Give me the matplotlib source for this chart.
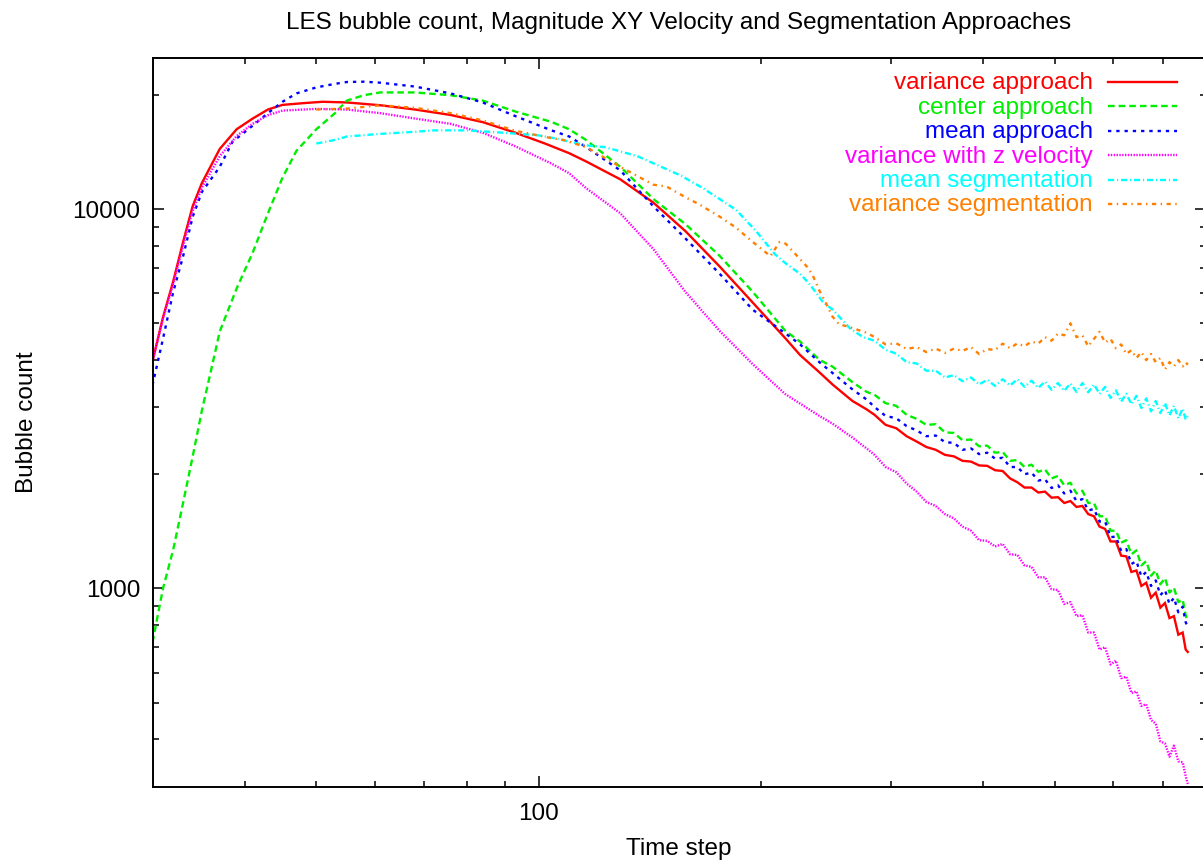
import matplotlib
matplotlib.use("Agg")
import matplotlib.pyplot as plt
from matplotlib.lines import Line2D

plt.rcParams['font.family'] = ['Liberation Sans', 'DejaVu Sans']

# ---------------- data ----------------
# early part of each series
red_head_x = [30, 31, 32, 33, 34, 35, 37, 39, 41, 43, 45, 48, 51, 55, 61, 68, 76, 84, 93, 102, 110,
              116, 129, 143, 158, 176, 195, 216, 226, 240, 250, 266, 278]
red_head_y = [3970, 5190, 6450, 8190, 10180, 11730, 14420, 16250, 17340, 18320, 18840, 19040, 19200,
              19120, 18800, 18320, 17720, 16970, 15910, 14900, 14050, 13360, 11990, 10410, 8760, 7050,
              5670, 4560, 4124, 3715, 3451, 3122, 2967]

grn_head_x = [30, 31, 32, 33, 34, 35, 36, 37, 39, 41, 43, 45, 47, 50, 53, 55, 58, 61, 68, 76, 84, 93,
              104, 110, 116, 129, 143, 158, 176, 195, 216, 226, 240, 250, 266, 278]
grn_head_y = [720, 1000, 1265, 1680, 2225, 2950, 3750, 4760, 6180, 7680, 9755, 12120, 14260, 16250,
              17920, 19340, 19980, 20320, 20320, 19980, 19340, 18100, 17000, 16250, 15216, 12937, 10639,
              9141, 7521, 6055, 4768, 4476, 4008, 3846, 3500, 3300]

blu_head_x = [30, 31, 32, 33, 34, 35, 37, 38.5, 41, 43, 45, 47, 50, 53, 55, 58, 61, 68, 76, 84, 93,
              104, 110, 116, 129, 143, 158, 176, 195, 216, 226, 240, 250, 266, 278]
blu_head_y = [3436, 4558, 6048, 7510, 9543, 11110, 12937, 15059, 16610, 17920, 19204, 20200, 20950,
              21410, 21650, 21690, 21560, 21060, 20200, 19120, 17600, 16150, 15551, 14575, 12657, 10183,
              8380, 6745, 5430, 4700, 4400, 3950, 3700, 3350, 3150]

mag_head_x = [30, 31, 32, 33, 34, 35, 37, 39, 41, 43, 45, 50, 55, 61, 68, 76, 84, 93, 104, 110, 116,
              129, 143, 158, 176, 195, 216, 240, 250, 266, 278]
mag_head_y = [3970, 5150, 6350, 8000, 9900, 11400, 13800, 15600, 16800, 17700, 18200, 18390, 18315,
              17920, 17343, 16791, 15907, 14650, 13200, 12437, 11354, 9755, 7852, 6055, 4768, 3900,
              3250, 2850, 2720, 2500, 2340]

cyn_head_x = [50, 53, 55, 61, 68, 72, 80, 90, 100, 105, 116, 123, 136, 156, 167, 185, 197, 209, 216,
              226, 232, 237, 243, 250, 264, 275]
cyn_head_y = [14900, 15230, 15550, 15800, 16000, 16140, 16140, 15900, 15660, 15390, 14733, 14575,
              13806, 12251, 11354, 9970, 8755, 7603, 7200, 6754, 6391, 6062, 5670, 5440, 4850, 4600]

org_head_x = [50, 55, 61, 68, 76, 84, 93, 104, 108, 116, 129, 143, 149, 158, 165, 176, 185, 195, 206,
              212, 216, 224, 231, 235, 240, 245, 250, 255, 264, 278]
org_head_y = [18315, 18420, 18798, 18510, 17920, 17150, 16100, 15400, 15227, 14575, 12937, 11604,
              11478, 10757, 10301, 9549, 8944, 8194, 7521, 8194, 8114, 7521, 7047, 6700, 6100, 5650,
              5210, 4979, 4883, 4724]

# late (noisy) part, common time steps
tail_x = [285, 295, 305, 315, 325, 335, 345, 355, 365, 375, 385, 395, 405, 415, 425, 435, 445, 455,
          465, 475, 485, 495, 505, 515, 525, 535, 545, 555, 565, 575, 585, 595, 605, 615, 625, 635,
          645, 655, 665, 675, 685, 695, 705, 715, 725, 735, 745, 752, 757]
red_tail_y = [2870, 2700, 2645, 2520, 2440, 2360, 2320, 2250, 2230, 2170, 2160, 2110, 2105, 2050,
              2040, 1950, 1905, 1845, 1845, 1790, 1800, 1735, 1740, 1680, 1700, 1640, 1650, 1570,
              1550, 1455, 1435, 1330, 1330, 1220, 1215, 1105, 1115, 1015, 1035, 945, 975, 890, 915,
              835, 845, 755, 765, 690, 680]
grn_tail_y = [3240, 3080, 3030, 2870, 2800, 2700, 2710, 2580, 2570, 2460, 2470, 2370, 2380, 2280,
              2290, 2170, 2180, 2090, 2120, 2030, 2060, 1950, 1980, 1870, 1900, 1780, 1810, 1680,
              1680, 1550, 1550, 1420, 1420, 1320, 1340, 1230, 1260, 1150, 1180, 1080, 1115, 1025,
              1065, 975, 1005, 920, 935, 850, 817]
blu_tail_y = [3010, 2850, 2810, 2680, 2610, 2520, 2530, 2430, 2420, 2320, 2340, 2260, 2280, 2200,
              2210, 2090, 2090, 2000, 2020, 1925, 1940, 1840, 1870, 1780, 1810, 1700, 1720, 1605,
              1620, 1500, 1500, 1365, 1370, 1255, 1270, 1160, 1180, 1075, 1105, 1015, 1050, 960, 990,
              910, 945, 865, 895, 815, 790]
mag_tail_y = [2250, 2090, 2025, 1890, 1800, 1690, 1650, 1570, 1530, 1455, 1420, 1340, 1335, 1290,
              1310, 1230, 1225, 1150, 1140, 1070, 1070, 995, 990, 910, 920, 845, 850, 765, 765, 690,
              700, 630, 645, 580, 585, 530, 535, 490, 495, 450, 440, 395, 390, 360, 385, 350, 348,
              320, 305]
cyn_tail_y = [4500, 4260, 4160, 3950, 3920, 3750, 3750, 3600, 3650, 3520, 3600, 3450, 3550, 3420,
              3560, 3430, 3560, 3400, 3530, 3380, 3510, 3340, 3480, 3320, 3470, 3300, 3480, 3290,
              3450, 3260, 3400, 3180, 3330, 3110, 3260, 3060, 3220, 2990, 3170, 2930, 3120, 2900,
              3080, 2860, 3030, 2810, 2980, 2790, 2860]
org_tail_y = [4600, 4400, 4430, 4280, 4330, 4200, 4290, 4180, 4290, 4230, 4330, 4150, 4280, 4250,
              4420, 4300, 4430, 4350, 4480, 4420, 4600, 4500, 4700, 4650, 5000, 4600, 4650, 4350,
              4550, 4750, 4450, 4550, 4300, 4400, 4150, 4250, 4050, 4200, 4000, 4150, 3950, 4050,
              3780, 3950, 3850, 4000, 3850, 3950, 3890]

labels = ["variance approach", "center approach", "mean approach",
          "variance with z velocity", "mean segmentation", "variance segmentation"]
colors = ["#ff0000", "#00ee00", "#0000ff", "#ff00ff", "#00ffff", "#ff8000"]
dashes = [None, (2.8, 1.7), (1.4, 2.1), (0.6, 0.6), (2.6, 1.2, 0.5, 1.2), (1.8, 1.9, 0.6, 1.9)]
series = [(red_head_x + tail_x, red_head_y + red_tail_y),
          (grn_head_x + tail_x, grn_head_y + grn_tail_y),
          (blu_head_x + tail_x, blu_head_y + blu_tail_y),
          (mag_head_x + tail_x, mag_head_y + mag_tail_y),
          (cyn_head_x + tail_x, cyn_head_y + cyn_tail_y),
          (org_head_x + tail_x, org_head_y + org_tail_y)]

xticks_major = [100]
xticks_minor = [40, 50, 60, 70, 80, 90, 200, 300, 400, 500, 600, 700]
yticks_major = [1000, 10000]
yticks_minor = [400, 500, 600, 700, 800, 900, 2000, 3000, 4000, 5000, 6000, 7000, 8000, 9000, 20000]

# ---------------- figure ----------------
W, H = 1203, 865
fig = plt.figure(figsize=(W / 100, H / 100), dpi=100)
L, R, T, B = 152.5, 1205.5, 58.3, 786.7
ax = fig.add_axes([L / W, 1 - B / H, (R - L) / W, (B - T) / H])
ax.set_xscale('log')
ax.set_yscale('log')
ax.set_xlim(30, 800)
ax.set_ylim(300, 25000)

lw = 1.7
for (xs, ys), c, d, lab in zip(series, colors, dashes, labels):
    ln, = ax.plot(xs, ys, color=c, lw=lw, label=lab, solid_joinstyle='miter')
    if d is not None:
        ln.set_dashes(d)
        ln.set_dash_capstyle('butt')

ax.set_xticks(xticks_major)
ax.set_xticklabels([str(v) for v in xticks_major])
ax.set_xticks(xticks_minor, minor=True)
ax.set_xticklabels([], minor=True)
ax.set_yticks(yticks_major)
ax.set_yticklabels([str(v) for v in yticks_major])
ax.set_yticks(yticks_minor, minor=True)
ax.set_yticklabels([], minor=True)

fs = 17.5
ax.tick_params(which='both', direction='in', top=True, right=True, width=1.1, colors='black')
ax.tick_params(which='major', length=7.7, labelsize=fs)
ax.tick_params(which='minor', length=4.1)
ax.tick_params(axis='y', which='major', pad=9)
ax.tick_params(axis='x', which='major', pad=12)
for s in ax.spines.values():
    s.set_linewidth(1.4)

# legend, gnuplot style: right-aligned coloured text, sample on the right
row0, pitch = 82.0, 24.4
for i, (c, d, lab) in enumerate(zip(colors, dashes, labels)):
    yc = row0 + i * pitch
    ya = (B - yc) / (B - T)
    yb = (B - (yc + 7.5)) / (B - T)
    ax.text((1092.7 - L) / (R - L), yb, lab, color=c, fontsize=fs, ha='right', va='baseline',
            transform=ax.transAxes)
    ln = Line2D([(1108 - L) / (R - L), (1177 - L) / (R - L)], [ya, ya], color=c, lw=lw,
                transform=ax.transAxes)
    if d is not None:
        ln.set_dashes(d)
        ln.set_dash_capstyle('butt')
    ax.add_line(ln)

fig.text(678.7 / W, 1 - 28.5 / H, "LES bubble count, Magnitude XY Velocity and Segmentation Approaches",
         ha='center', va='baseline', fontsize=fs)
fig.text(678.7 / W, 1 - 855 / H, "Time step", ha='center', va='baseline', fontsize=fs)
fig.text(27 / W, 1 - 422 / H, "Bubble count", ha='center', va='center', rotation=90, fontsize=fs)

fig.savefig("out.png", dpi=100)
